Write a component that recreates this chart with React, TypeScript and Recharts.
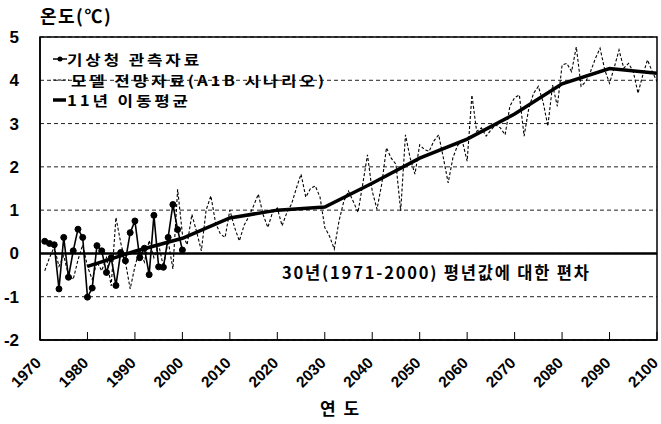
import { LineChart, Line, XAxis, YAxis, CartesianGrid, ReferenceLine, ReferenceArea, Legend } from "recharts";

const FONT_KR = '"Noto Sans CJK KR", sans-serif';
const FONT_NUM = '"Liberation Sans", Arial, sans-serif';

// 기상청 관측자료, 1971-2000
const observedStart = 1971;
const observedValues = [
  0.28, 0.23, 0.2, -0.82, 0.37, -0.55, 0.06, 0.56, 0.37, -1.01,
  -0.8, 0.18, 0.06, -0.44, -0.1, -0.74, 0.02, -0.17, 0.48, 0.75,
  -0.1, 0.12, -0.49, 0.88, -0.31, -0.32, 0.37, 1.13, 0.55, 0.08,
];

// 모델 전망자료 (A1B), 1971-2100
const modelStart = 1971;
const modelValues = [
  -0.4, -0.1, 0.15, -0.3, -0.05, -0.5, -0.6, -0.15, 0.2, -0.3,
  -0.6, -0.2, -0.4, -0.1, -0.75, 0.83, 0.25, -0.2, -0.82, -0.3,
  0.1, -0.2, 0.3, -0.1, 0.2, -0.3, 0.29, -0.36, 1.48, 0.45,
  0.2, 0.9, 0.5, 0.06, 1.0, 1.33, 0.7, 0.45, 0.37, 1.0,
  0.6, 0.29, 0.65, 0.85, 1.1, 1.37, 0.9, 0.6, 0.95, 1.05,
  0.64, 0.94, 1.14, 1.5, 1.83, 1.3, 1.5, 1.56, 1.3, 0.6,
  0.4, 0.1, 0.75, 1.2, 1.44, 1.2, 0.95, 1.6, 2.28, 1.44,
  1.02, 1.6, 2.44, 2.2, 2.06, 0.98, 2.74, 2.2, 1.83, 2.51,
  2.4, 2.36, 2.6, 2.74, 2.2, 1.63, 2.21, 2.5, 2.59, 2.13,
  3.66, 2.82, 2.9, 2.71, 2.85, 2.97, 2.9, 2.74, 3.4, 3.6,
  3.66, 2.71, 3.36, 3.7, 3.86, 3.5, 2.94, 3.89, 3.4, 4.35,
  4.39, 4.2, 4.77, 3.86, 3.97, 4.2, 4.5, 4.74, 4.24, 3.93,
  4.3, 4.7, 4.28, 4.39, 4.2, 3.7, 4.12, 4.47, 4.2, 3.97,
];

// 11년 이동평균
const maYears = [1980, 1990, 2000, 2010, 2020, 2030, 2040, 2050, 2060, 2070, 2080, 2090, 2100];
const maValues = [-0.3, 0.05, 0.35, 0.82, 1.0, 1.07, 1.62, 2.2, 2.64, 3.22, 3.92, 4.27, 4.16];

const xTicks = [1970, 1980, 1990, 2000, 2010, 2020, 2030, 2040, 2050, 2060, 2070, 2080, 2090, 2100];
const yTicks = [-2, -1, 0, 1, 2, 3, 4, 5];

const observedData = observedValues.map((v, i) => ({ year: observedStart + i, value: v }));
const modelData = modelValues.map((v, i) => ({ year: modelStart + i, value: v }));
const maData = maYears.map((y, i) => ({ year: y, value: maValues[i] }));

const XTick = (props: any) => {
  const { x, y, payload } = props;
  const px = x + 2;
  const py = y + 32;
  return (
    <text x={px} y={py} transform={`rotate(-45 ${px} ${py})`} textAnchor="end"
      fontSize={15.5} fontWeight={700} fontFamily={FONT_NUM} fill="#000">
      {payload.value}
    </text>
  );
};

const YTick = (props: any) => {
  const { x, y, payload } = props;
  return (
    <text x={x - 21} y={y + 6} textAnchor="end" fontSize={17} fontWeight={700} fontFamily={FONT_NUM} fill="#000">
      {payload.value}
    </text>
  );
};

// legend rows: wide Gulim-like text, squeezed rows like the original
function LegendBox() {
  const row = { display: "flex", alignItems: "center", height: 20.5 } as const;
  const label = { display: "inline-block", transform: "scaleX(1.2)", transformOrigin: "left center" } as const;
  return (
    <div style={{ fontFamily: FONT_KR, fontWeight: 700, fontSize: 14, letterSpacing: 2.4, lineHeight: "20.5px", color: "#000", whiteSpace: "nowrap" }}>
      <div style={row}>
        <svg width={14} height={10}><line x1={0} y1={5} x2={14} y2={5} stroke="#000" strokeWidth={1.5} /><circle cx={7} cy={5} r={2.5} fill="#000" /></svg>
        <span style={label}>기상청 관측자료</span>
      </div>
      <div style={row}>
        <svg width={18} height={10}><line x1={0} y1={5} x2={16} y2={5} stroke="#000" strokeWidth={1} strokeDasharray="3 2" /></svg>
        <span style={label}>모델 전망자료(A1B 시나리오)</span>
      </div>
      <div style={row}>
        <svg width={14} height={10}><line x1={0} y1={5} x2={13} y2={5} stroke="#000" strokeWidth={3.5} /></svg>
        <span style={label}>11년 이동평균</span>
      </div>
    </div>
  );
}

export default function App() {
  return (
    <div style={{ position: "absolute", left: 0, top: 0, width: 661, height: 424, background: "#fff" }}>
      <LineChart width={661} height={424} margin={{ top: 37, right: 4, bottom: 0, left: 0 }}>
        <CartesianGrid vertical={false} stroke="#222" strokeDasharray="4 3" strokeWidth={1} />
        <XAxis dataKey="year" type="number" domain={[1970, 2100]} ticks={xTicks} interval={0}
          height={84} tickSize={-8} tickMargin={0} tick={<XTick />} axisLine={{ stroke: "#000", strokeWidth: 1.5 }}
          tickLine={{ stroke: "#000", strokeWidth: 1 }} allowDataOverflow />
        <YAxis type="number" domain={[-2, 5]} ticks={yTicks} width={40} tickSize={0} tickMargin={0}
          tick={<YTick />} axisLine={{ stroke: "#000", strokeWidth: 1.5 }} tickLine={false} allowDataOverflow />
        <ReferenceArea x1={1970} x2={2100} y1={-2} y2={5} fill="none" stroke="#000" strokeWidth={1.5} ifOverflow="visible" />
        <ReferenceLine y={0} stroke="#000" strokeWidth={2.5} />
        <Legend layout="horizontal" verticalAlign="middle" align="center" content={<LegendBox />}
          wrapperStyle={{ left: 53, top: 49, width: "auto" }} />
        <Line data={modelData} dataKey="value" type="linear" stroke="#000" strokeWidth={1.1}
          strokeDasharray="3 2" dot={false} activeDot={false} isAnimationActive={false} />
        <Line data={observedData} dataKey="value" type="linear" stroke="#000" strokeWidth={1.6}
          dot={{ r: 3, fill: "#000", stroke: "#000", strokeWidth: 1 }} activeDot={false} isAnimationActive={false} />
        <Line data={maData} dataKey="value" type="linear" stroke="#000" strokeWidth={3.5}
          dot={false} activeDot={false} isAnimationActive={false} />
      </LineChart>
      <div style={{ position: "absolute", left: 40, top: 4, fontFamily: FONT_KR, fontWeight: 700, fontSize: 18, letterSpacing: 1.5, lineHeight: "22px", whiteSpace: "nowrap" }}>
        온도(℃)
      </div>
      <div style={{ position: "absolute", left: 282, top: 261, fontFamily: FONT_KR, fontWeight: 700, fontSize: 16.5, letterSpacing: 1.8, lineHeight: "22px", whiteSpace: "nowrap" }}>
        30년(1971-2000) 평년값에 대한 편차
      </div>
      <div style={{ position: "absolute", left: 320, top: 397, fontFamily: FONT_KR, fontWeight: 700, fontSize: 17, letterSpacing: 2, lineHeight: "22px", whiteSpace: "nowrap" }}>
        연 도
      </div>
    </div>
  );
}
